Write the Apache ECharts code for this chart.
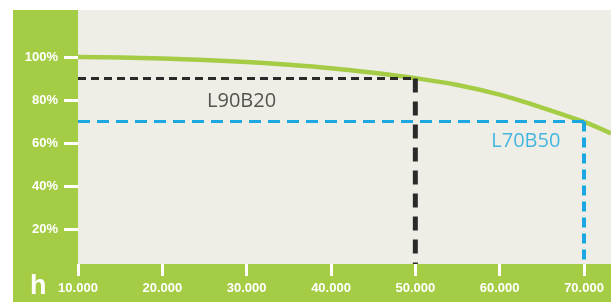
<!DOCTYPE html>
<html>
<head>
<meta charset="utf-8">
<script src="https://cdn.jsdelivr.net/npm/echarts@6/dist/echarts.min.js"></script>
<style>
  html, body { margin: 0; padding: 0; background: #fff; }
  #chart { width: 611px; height: 302px; }
</style>
</head>
<body>
<div id="chart"></div>
<script>
// lifetime curve: hours -> remaining luminous flux (%)
var hours = [10000, 15000, 20000, 25000, 30000, 35000, 40000, 45000, 50000, 55000, 60000, 65000, 70000, 73200];
var flux  = [100, 99.75, 99.3, 98.6, 97.7, 96.4, 94.8, 92.7, 90.2, 87.0, 82.5, 76.5, 69.8, 64.5];

var xTicks = [10000, 20000, 30000, 40000, 50000, 60000, 70000];
var yTicks = [20, 40, 60, 80, 100];

// reference points
var l90 = { name: 'L90B20', hours: 50000, flux: 90, labelAt: [29400, 79.5] };
var l70 = { name: 'L70B50', hours: 70000, flux: 70, labelAt: [63100, 61] };

var yMin = 3.7, yMax = 121.9;
var xMin = 10000, xMax = 73200;

var GREEN = '#a5cc45';
var PAPER = '#eeeee6';
var DARK = '#2a2a2a';
var BLUE = '#1ba7e0';
var AXIS_FONT = '"Liberation Sans", Arial, sans-serif';

var chart = echarts.init(document.getElementById('chart'));

var option = {
  animation: false,
  grid: { left: 78, right: 0, top: 10, bottom: 38 },
  graphic: [
    { type: 'rect', z: -10, shape: { x: 13, y: 10, width: 598, height: 292 }, style: { fill: GREEN } },
    { type: 'rect', z: -9, shape: { x: 78, y: 10, width: 533, height: 254 }, style: { fill: PAPER } },
    { type: 'text', z: 5, left: 30, top: 273,
      style: { text: 'h', fill: '#fff', font: 'bold 27px ' + AXIS_FONT } }
  ],
  xAxis: {
    type: 'value', min: xMin, max: xMax, interval: 10000,
    axisLine: { show: false },
    splitLine: { show: false },
    axisTick: { show: true, length: 12, lineStyle: { color: '#fff', width: 3 } },
    axisLabel: {
      showMaxLabel: false, margin: 18, color: '#fff',
      fontWeight: 'bold', fontSize: 13, fontFamily: AXIS_FONT,
      formatter: function (v) { return (v / 1000).toFixed(3); }
    }
  },
  yAxis: {
    type: 'value', min: yMin, max: yMax,
    axisLine: { show: false },
    splitLine: { show: false },
    axisTick: { show: true, length: 14, customValues: yTicks, lineStyle: { color: '#fff', width: 3 } },
    axisLabel: {
      customValues: yTicks, margin: 20, color: '#fff',
      fontWeight: 'bold', fontSize: 13, fontFamily: AXIS_FONT,
      formatter: '{value}%'
    }
  },
  series: [
    {
      type: 'line', smooth: 0.3, symbol: 'none', z: 3,
      lineStyle: { color: GREEN, width: 4.5 },
      data: hours.map(function (h, i) { return [h, flux[i]]; })
    },
    {
      type: 'line', symbol: 'none', z: 4,
      lineStyle: { color: DARK, width: 3, type: [8, 5] },
      data: [[xMin, l90.flux], [l90.hours, l90.flux]]
    },
    {
      type: 'line', symbol: 'none', z: 4,
      lineStyle: { color: DARK, width: 5, type: [14, 9] },
      data: [[l90.hours, l90.flux], [l90.hours, yMin]]
    },
    {
      type: 'line', symbol: 'none', z: 4,
      lineStyle: { color: BLUE, width: 3, type: [12, 7] },
      data: [[xMin, l70.flux], [l70.hours, l70.flux]]
    },
    {
      type: 'line', symbol: 'none', z: 4,
      lineStyle: { color: BLUE, width: 4, type: [10, 6] },
      data: [[l70.hours, l70.flux], [l70.hours, yMin]]
    },
    {
      type: 'scatter', symbolSize: 0, z: 5, silent: true,
      label: {
        show: true, position: 'inside',
        formatter: function (p) { return p.data.name; },
        fontSize: 20, fontFamily: '"Open Sans", "DejaVu Sans", sans-serif',
        textBorderWidth: 0
      },
      data: [
        { name: l90.name, value: l90.labelAt, label: { color: DARK } },
        { name: l70.name, value: l70.labelAt, label: { color: BLUE } }
      ]
    }
  ]
};

chart.setOption(option);
</script>
</body>
</html>
